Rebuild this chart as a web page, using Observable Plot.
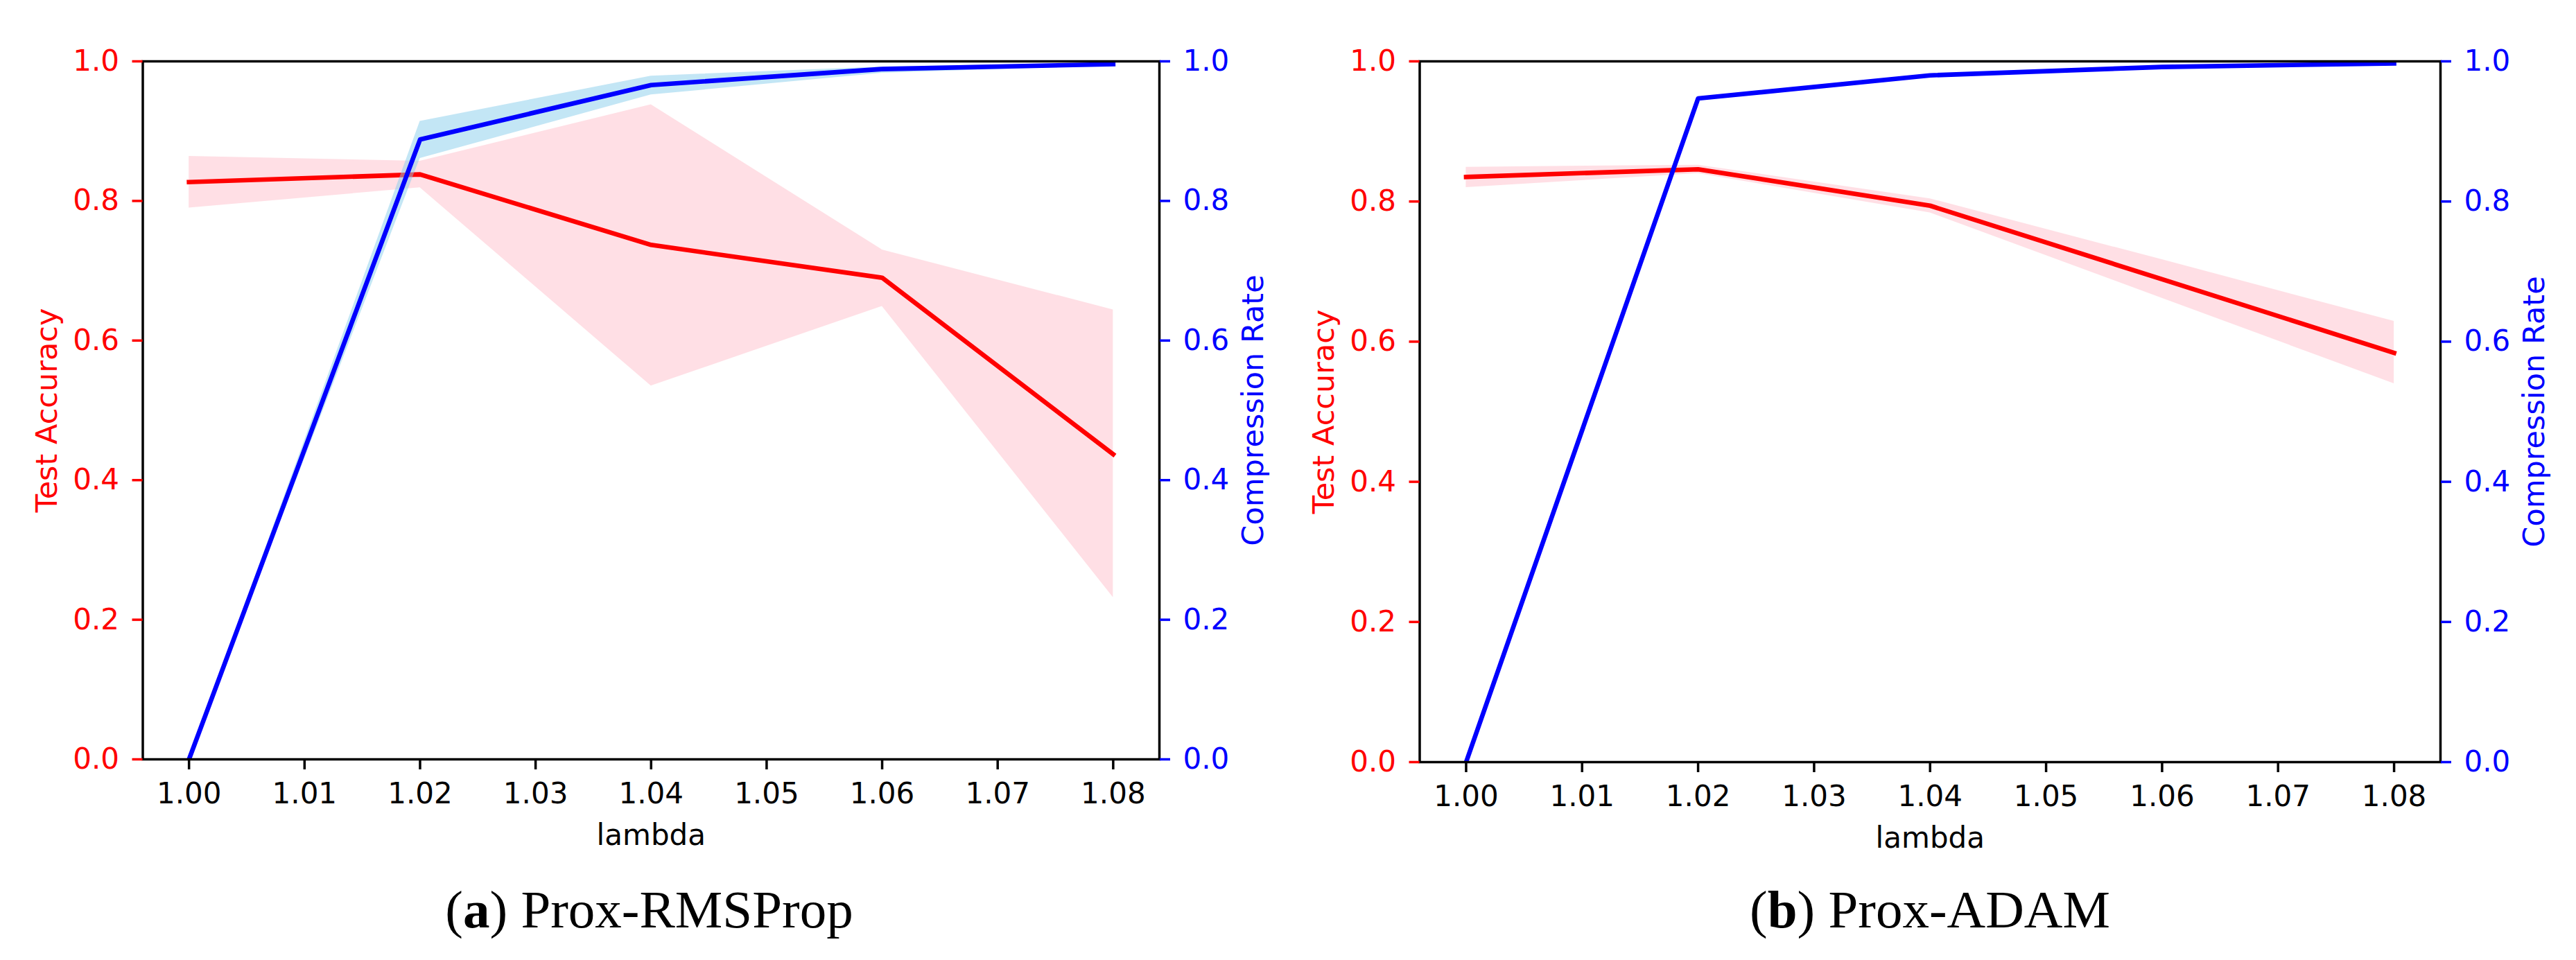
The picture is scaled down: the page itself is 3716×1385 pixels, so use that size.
<!DOCTYPE html>
<html>
<head>
<meta charset="utf-8">
<script src="https://cdn.jsdelivr.net/npm/d3@7"></script>
<script src="https://cdn.jsdelivr.net/npm/@observablehq/plot@0.6"></script>
<style>
  html, body { margin: 0; padding: 0; background: #fff; }
  #root { position: relative; width: 3716px; height: 1385px; overflow: hidden; background: #fff; }
  .panel { position: absolute; top: 0; }
  .caption { position: absolute; font-family: "Liberation Serif", "DejaVu Serif", serif; font-size: 77px; color: #000; white-space: nowrap; transform: translateX(-50%); line-height: 1; }
</style>
</head>
<body>
<div id="root"></div>
<script>
// ---- data ----
const lambdas = [1.00, 1.02, 1.04, 1.06, 1.08];

const rmsAcc     = [0.827, 0.838, 0.737, 0.690, 0.437];
const rmsAccLo   = [0.790, 0.819, 0.535, 0.649, 0.232];
const rmsAccHi   = [0.864, 0.857, 0.938, 0.730, 0.644];
const rmsComp    = [0.000, 0.888, 0.966, 0.989, 0.996];
const rmsCompLo  = [0.000, 0.861, 0.952, 0.983, 0.994];
const rmsCompHi  = [0.000, 0.914, 0.979, 0.992, 0.998];

const adamAcc    = [0.835, 0.846, 0.794, 0.689, 0.584];
const adamAccLo  = [0.820, 0.840, 0.784, 0.662, 0.540];
const adamAccHi  = [0.849, 0.852, 0.804, 0.717, 0.629];
const adamComp   = [0.000, 0.947, 0.980, 0.992, 0.997];
const adamCompLo = [0.000, 0.945, 0.978, 0.991, 0.996];
const adamCompHi = [0.000, 0.949, 0.982, 0.993, 0.998];

const xTicks = [1.00, 1.01, 1.02, 1.03, 1.04, 1.05, 1.06, 1.07, 1.08];
const yTicks = [0.0, 0.2, 0.4, 0.6, 0.8, 1.0];
const xLabel = "lambda";
const yLeftLabel = "Test Accuracy";
const yRightLabel = "Compression Rate";
const captions = [["a", "Prox-RMSProp"], ["b", "Prox-ADAM"]];

const font = "'DejaVu Sans', sans-serif";

function rows(acc, lo, hi, comp, clo, chi) {
  return lambdas.map((x, i) => ({x, acc: acc[i], lo: lo[i], hi: hi[i], comp: comp[i], clo: clo[i], chi: chi[i]}));
}

function makePanel(data, opts) {
  return Plot.plot({
    width: 1858,
    height: 1250,
    marginTop: 88,
    marginBottom: opts.marginBottom,
    marginLeft: opts.marginLeft,
    marginRight: opts.marginRight,
    style: {fontFamily: font, fontSize: "42px", background: "white", overflow: "visible"},
    x: {domain: [0.996, 1.084]},
    y: {domain: [0, 1]},
    marks: [
      Plot.areaY(data, {x: "x", y1: "lo", y2: "hi", fill: "pink", fillOpacity: 0.5, clip: true}),
      Plot.line(data, {x: "x", y: "acc", stroke: "red", strokeWidth: 6.6, strokeLinecap: "square", strokeLinejoin: "round", clip: true}),
      Plot.areaY(data, {x: "x", y1: "clo", y2: "chi", fill: "skyblue", fillOpacity: 0.5, clip: true}),
      Plot.line(data, {x: "x", y: "comp", stroke: "blue", strokeWidth: 6.6, strokeLinecap: "square", strokeLinejoin: "round", clip: true}),
      Plot.frame({stroke: "black", strokeWidth: 3.5}),
      Plot.axisX({ticks: xTicks, tickFormat: d3.format(".2f"), tickSize: 15, tickPadding: 19, stroke: "black", strokeWidth: 3.5, fill: "black", label: null, fontFamily: font, fontSize: 42}),
      Plot.axisY({anchor: "left", ticks: yTicks, tickFormat: d3.format(".1f"), tickSize: 15, tickPadding: 19, stroke: "red", strokeWidth: 3.5, fill: "red", label: null, fontFamily: font, fontSize: 42}),
      Plot.axisY({anchor: "right", ticks: yTicks, tickFormat: d3.format(".1f"), tickSize: 15, tickPadding: 19, stroke: "blue", strokeWidth: 3.5, fill: "blue", label: null, fontFamily: font, fontSize: 42}),
      Plot.text([yLeftLabel], {text: d => d, frameAnchor: "left", dx: -138, rotate: -90, textAnchor: "middle", lineAnchor: "middle", fill: "red", fontSize: 43, fontFamily: font}),
      Plot.text([yRightLabel], {text: d => d, frameAnchor: "right", dx: 136, rotate: -90, textAnchor: "middle", lineAnchor: "middle", fill: "blue", fontSize: 43, fontFamily: font}),
      Plot.text([xLabel], {text: d => d, frameAnchor: "bottom", dy: opts.lambdaDy, textAnchor: "middle", lineAnchor: "middle", fill: "black", fontSize: 42, fontFamily: font})
    ]
  });
}

const root = document.getElementById("root");
const panels = [
  {data: rows(rmsAcc, rmsAccLo, rmsAccHi, rmsComp, rmsCompLo, rmsCompHi), left: 0, marginLeft: 205.5, marginRight: 186, marginBottom: 155, lambdaDy: 110, capX: 936.5},
  {data: rows(adamAcc, adamAccLo, adamAccHi, adamComp, adamCompLo, adamCompHi), left: 1858, marginLeft: 189.5, marginRight: 196, marginBottom: 151, lambdaDy: 110, capX: 2784}
];

panels.forEach((p, i) => {
  const div = document.createElement("div");
  div.className = "panel";
  div.style.left = p.left + "px";
  div.appendChild(makePanel(p.data, p));
  root.appendChild(div);

  const cap = document.createElement("div");
  cap.className = "caption";
  cap.style.left = p.capX + "px";
  cap.style.top = "1274px";
  const b = document.createElement("b");
  b.textContent = captions[i][0];
  cap.appendChild(document.createTextNode("("));
  cap.appendChild(b);
  cap.appendChild(document.createTextNode(") " + captions[i][1]));
  root.appendChild(cap);
});
</script>
</body>
</html>
